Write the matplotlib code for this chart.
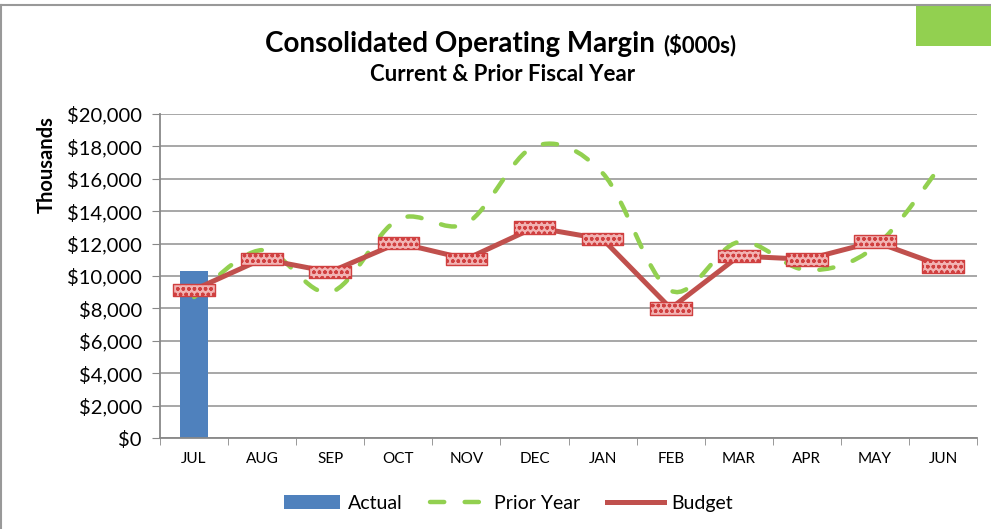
import matplotlib
matplotlib.use('Agg')
import matplotlib.pyplot as plt
import numpy as np
from matplotlib.path import Path
from matplotlib.patches import PathPatch, Rectangle, Patch
from matplotlib.lines import Line2D
from matplotlib.ticker import FuncFormatter

plt.rcParams['font.family'] = ['Lato', 'DejaVu Sans']

# Data (thousands)
months = ['JUL', 'AUG', 'SEP', 'OCT', 'NOV', 'DEC', 'JAN', 'FEB', 'MAR', 'APR', 'MAY', 'JUN']
actual = [10300]
prior_year = [8700, 11600, 9000, 13500, 13250, 18000, 16350, 9100, 12100, 10370, 11800, 17000]
budget = [9150, 11050, 10250, 12050, 11050, 13000, 12280, 8000, 11230, 11030, 12120, 10600]

fig = plt.figure(figsize=(9.91, 5.29), dpi=100)
ax = fig.add_axes([0.1615, 0.172, 0.8245, 0.6125])

x = np.arange(len(months))

# gridlines
ax.set_ylim(0, 20000)
ax.set_xlim(-0.5, len(months) - 0.5)
ax.set_yticks(np.arange(0, 20001, 2000))
ax.yaxis.set_major_formatter(FuncFormatter(lambda v, p: f'${int(v):,}'))
ax.grid(axis='y', color='#a0a0a0', linewidth=1.3)
ax.set_axisbelow(True)

# actual bar
ax.bar(x[:len(actual)], actual, width=0.41, color='#4f81bd', zorder=2)

# prior year - smoothed line (Catmull-Rom as bezier)
pts = np.column_stack([x, prior_year]).astype(float)
verts = [pts[0]]
codes = [Path.MOVETO]
n = len(pts)
for i in range(n - 1):
    p0 = pts[max(i - 1, 0)]
    p1 = pts[i]
    p2 = pts[i + 1]
    p3 = pts[min(i + 2, n - 1)]
    c1 = p1 + (p2 - p0) / 6.0
    c2 = p2 - (p3 - p1) / 6.0
    verts += [c1, c2, p2]
    codes += [Path.CURVE4] * 3
pp = PathPatch(Path(verts, codes), facecolor='none', edgecolor='#92d050',
               linewidth=3.2, linestyle=(0, (3.2, 4.6)), zorder=3)
pp.set_capstyle('round')
ax.add_patch(pp)

# budget line
ax.plot(x, budget, color='#c0504d', linewidth=3.6, zorder=4)
rect = Path([(-0.5, -0.15), (0.5, -0.15), (0.5, 0.15), (-0.5, 0.15), (-0.5, -0.15)],
            [Path.MOVETO, Path.LINETO, Path.LINETO, Path.LINETO, Path.CLOSEPOLY])
ax.scatter(x, budget, marker=rect, s=30 ** 2, facecolor='#f2b3b3', edgecolor='#d04040',
           hatch='ooo', linewidths=1.0, zorder=5)

ax.set_xticks(x)
ax.set_xticklabels(months, fontsize=11)
ax.set_xticks(np.arange(-0.5, len(months), 1), minor=True)
ax.tick_params(axis='x', which='major', length=0, pad=10)
ax.tick_params(axis='x', which='minor', length=5, color='#888888')
ax.tick_params(axis='y', labelsize=14.5, length=6, color='#888888', pad=7)
for s in ['top', 'right']:
    ax.spines[s].set_visible(False)
for s in ['left', 'bottom']:
    ax.spines[s].set_color('#888888')
    ax.spines[s].set_linewidth(1.3)

# titles
fig.text(0.661, 0.917, 'Consolidated Operating Margin', ha='right', va='center',
         fontsize=20, fontweight='bold')
fig.text(0.669, 0.914, '($000s)', ha='left', va='center', fontsize=16, fontweight='bold')
fig.text(0.507, 0.859, 'Current & Prior Fiscal Year', ha='center', va='center',
         fontsize=16, fontweight='bold')
fig.text(0.047, 0.688, 'Thousands', rotation=90, ha='center', va='center',
         fontsize=14.5, fontweight='bold')

# legend
handles = [Patch(facecolor='#4f81bd'),
           Line2D([], [], color='#92d050', linewidth=3.2, linestyle=(0, (3.2, 4.6)),
                  dash_capstyle='round'),
           Line2D([], [], color='#c0504d', linewidth=3.6)]
fig.legend(handles, ['Actual', 'Prior Year', 'Budget'], loc='center',
           bbox_to_anchor=(0.513, 0.049), ncol=3, frameon=False, fontsize=14,
           handlelength=2.9, columnspacing=1.4, handletextpad=0.4)

# frame and green corner box
fig.add_artist(Line2D([0, 1], [0.991, 0.991], color='#999999', linewidth=1.5))
fig.add_artist(Line2D([0.001, 0.001], [0, 0.991], color='#999999', linewidth=1.5))
fig.add_artist(Rectangle((916 / 991, 1 - 46 / 529), 75 / 991, 41 / 529,
                         facecolor='#92d050', edgecolor='none'))

fig.savefig('out.png', dpi=100)
